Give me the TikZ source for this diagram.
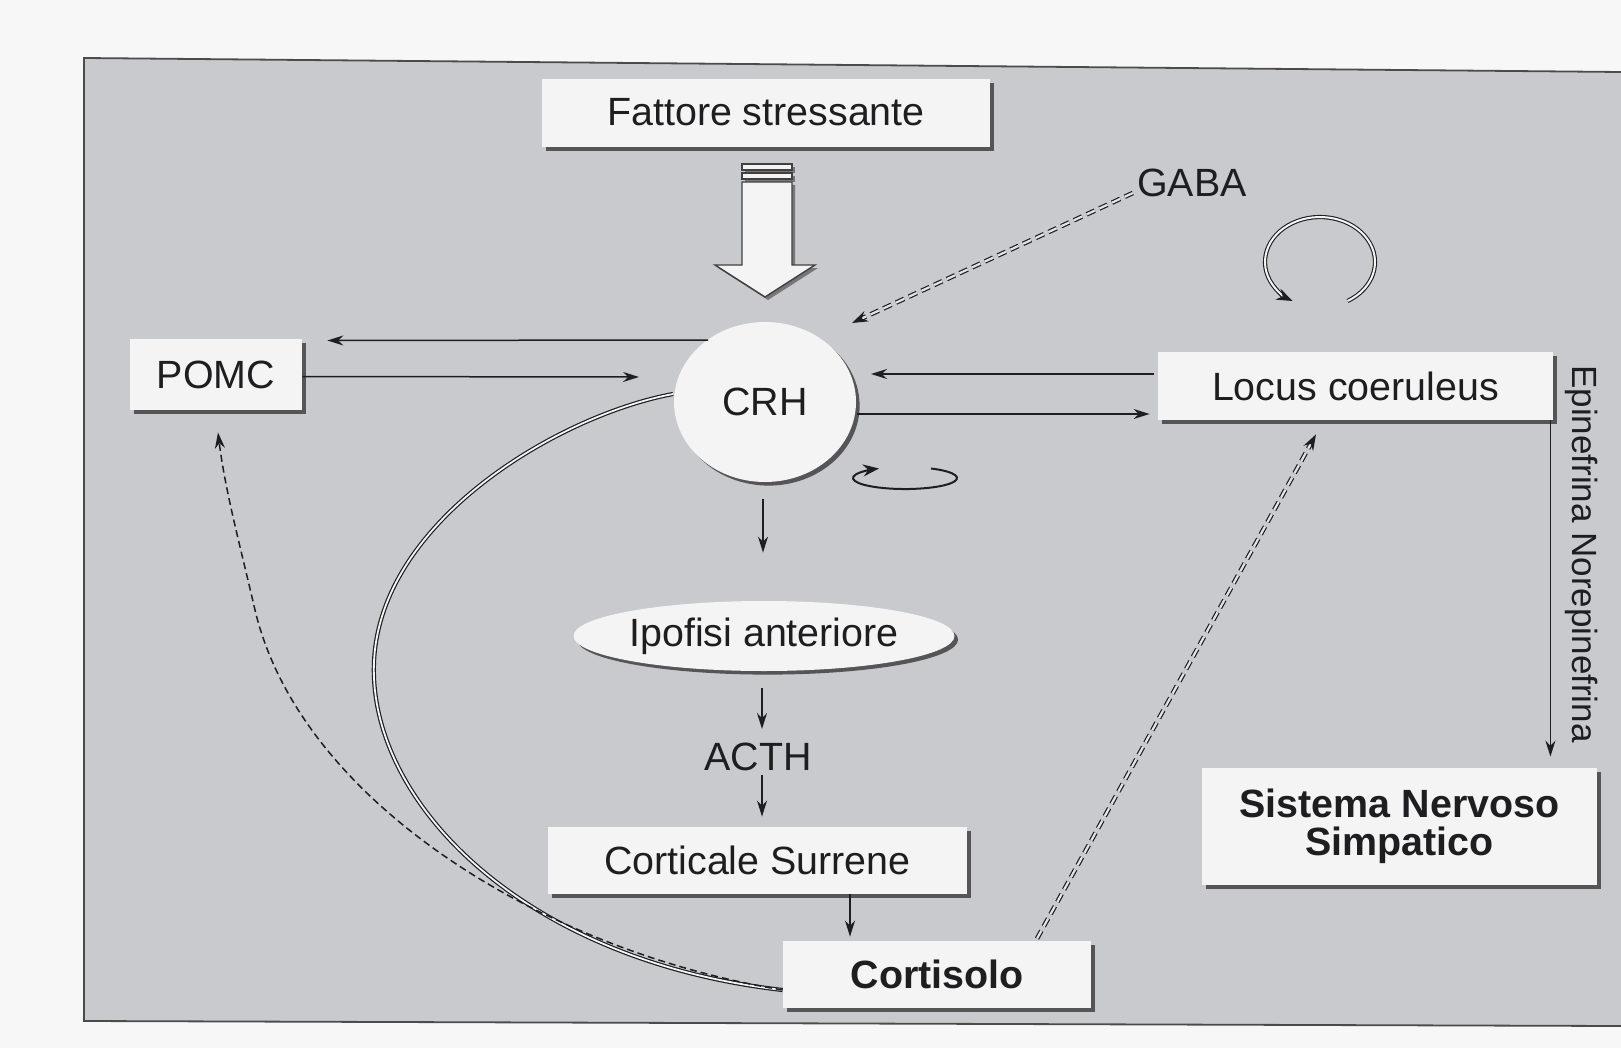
\documentclass[tikz,border=0pt]{standalone}
\usepackage{fontspec}
\setmainfont{Liberation Sans}
\usetikzlibrary{arrows.meta,calc,shadows,shapes.geometric}
\definecolor{panel}{RGB}{200,202,205}
\definecolor{boxfill}{RGB}{244,244,245}
\definecolor{shade}{RGB}{85,85,88}
\definecolor{ink}{RGB}{30,30,32}
\begin{document}
\begin{tikzpicture}[x=0.5pt,y=-0.5pt,
  lbl/.style={font=\fontsize{19.7}{18}\selectfont, text=ink, inner sep=0pt},
  box/.style={lbl, fill=boxfill, drop shadow={shadow xshift=1.8pt, shadow yshift=-1.8pt, opacity=1, fill=shade}},
  oval/.style={box, ellipse},
  arr/.style={-{Stealth[length=8pt,width=5pt]}, line width=0.75pt, draw=ink},
  dasharr/.style={-{Stealth[length=8pt,width=5.5pt]}, draw=ink, line width=0.6pt, double=panel!50!white, double distance=1.1pt, dash pattern=on 4.5pt off 2.5pt},
  dashcurve/.style={-{Stealth[length=8pt,width=5pt]}, draw=ink, line width=0.75pt, dash pattern=on 3.5pt off 2pt},
  dblcurve/.style={draw=ink, line width=0.6pt, double=boxfill, double distance=0.9pt},
  loopdbl/.style={-{Stealth[length=8pt,width=6pt]}, draw=ink, line width=0.55pt, double=boxfill, double distance=1pt},
  loopsgl/.style={-{Stealth[length=8pt,width=6pt]}, draw=ink, line width=1pt},
  hollow/.style={fill=boxfill, draw=ink!85, line width=0.7pt, drop shadow={shadow xshift=1.5pt, shadow yshift=-1.5pt, opacity=1, fill=shade!80}}
]
\useasboundingbox (0,0) rectangle (1621,1048);
\fill[white!97!black] (0,0) rectangle (1621,1048);
% panel
\fill[panel] (84,58) -- (1621,72) -- (1621,1026) -- (84,1021) -- cycle;
\draw[line width=0.9pt, ink!80] (1621,72) -- (84,58) -- (84,1021) -- (1621,1026);

% nodes
\node[box, minimum width=224pt, minimum height=34pt, text depth=1pt] (fattore) at (766,113) {Fattore stressante};
\node[box, minimum width=86pt, minimum height=35.5pt] (pomc) at (216,374.5) {POMC};
\node[oval, minimum width=91pt, minimum height=80pt] (crh) at (765,402) {CRH};
\node[box, minimum width=197.5pt, minimum height=34pt] (locus) at (1355.5,386) {Locus coeruleus};
\node[oval, minimum width=190pt, minimum height=35pt] (ipofisi) at (764,636) {Ipofisi anteriore};
\node[lbl] (acth) at (758,757) {ACTH};
\node[box, minimum width=209.5pt, minimum height=33.5pt] (corticale) at (757.5,860.5) {Corticale Surrene};
\node[box, minimum width=154pt, minimum height=33.5pt, font=\fontsize{19.7}{18}\selectfont\bfseries] (cortisolo) at (937,974.5) {Cortisolo};
\node[box, minimum width=197.5pt, minimum height=58.5pt, align=center, font=\fontsize{19.7}{19}\selectfont\bfseries] (sistema) at (1399.5,826.5) {Sistema Nervoso\\Simpatico};
\node[lbl] (gaba) at (1192,183) {GABA};
\node[lbl, rotate=-90, font=\fontsize{17.5}{18}\selectfont] (epi) at (1582,554) {Epinefrina Norepinefrina};

% hollow stress arrow
\path[hollow] (742,164) rectangle (792,170);
\path[hollow] (742,173) rectangle (792,179);
\path[hollow] (742,182) -- (792,182) -- (792,265) -- (815,265) -- (765,297) -- (715,265) -- (742,265) -- cycle;

% straight arrows
\draw[arr] ($(crh.center)+(-57,-62)$) -- ($(pomc.east)+(25,-34)$);
\draw[arr] ($(pomc.east)+(0,2)$) -- ($(crh.center)+(-126,-25)$);
\draw[arr] ($(locus.west)+(-4,-12)$) -- ($(crh.center)+(106,-28)$);
\draw[arr] ($(crh.center)+(92,12)$) -- ($(locus.west)+(-8,28)$);
\draw[arr] ($(crh.center)+(-2,97)$) -- ($(ipofisi.north)+(-1,-48)$);
\draw[arr] ($(ipofisi.south)+(-2,17)$) -- ($(acth.center)+(4,-28)$);
\draw[arr] ($(acth.center)+(4,18)$) -- ($(corticale.north)+(4.5,-10)$);
\draw[arr] ($(corticale.south)+(92.5,0)$) -- ($(cortisolo.north)+(-87,-4)$);
\draw[arr] ($(locus.south east)+(-3,0)$) -- ($(sistema.north east)+(-47,-11)$);

% dashed double arrows
\draw[dasharr] ($(gaba.west)+(-4,10)$) -- ($(crh.center)+(87,-79)$);
\draw[dasharr] ($(cortisolo.north)+(100,-2)$) -- ($(locus.south)+(-39.5,14)$);

% feedback curves
\draw[dblcurve] ($(crh.center)+(-92,-8)$) .. controls (560,415) and (380,520) .. (374,662)
  .. controls (368,800) and (520,960) .. ($(cortisolo.west)+(0,15.5)$);
\draw[dashcurve] ($(cortisolo.west)+(0,15.5)$) .. controls (540,950) and (300,800) .. (255,610)
  .. controls (240,545) and (225,490) .. ($(pomc.south)+(2,22)$);

% loops
\draw[loopdbl] (1347.5,301) arc[start angle=60, end angle=-240, x radius=55, y radius=45];
\draw[loopsgl] (931,468.5) arc[start angle=-60, end angle=240, x radius=52, y radius=11];
\end{tikzpicture}
\end{document}
